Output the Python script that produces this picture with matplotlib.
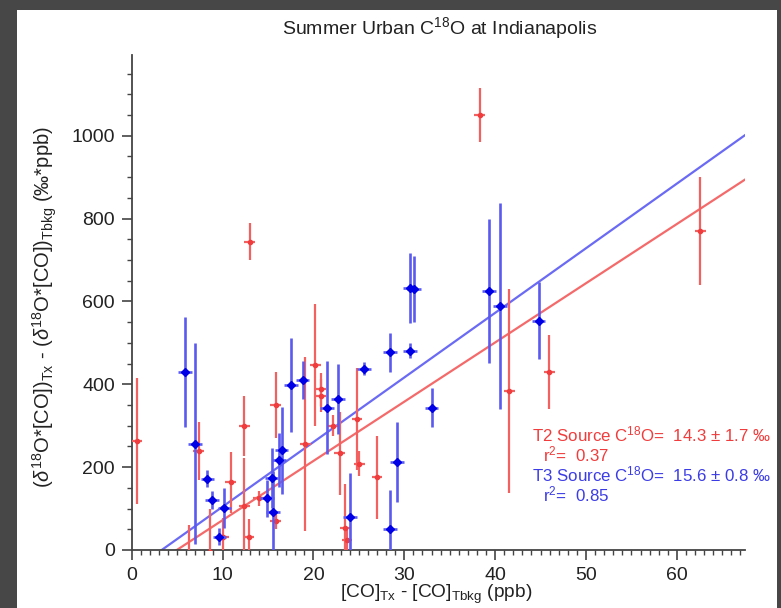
import matplotlib
matplotlib.use("Agg")
import matplotlib.pyplot as plt
from matplotlib.patches import Rectangle
from matplotlib.ticker import MultipleLocator
import numpy as np

plt.rcParams['font.family'] = ['Liberation Sans', 'DejaVu Sans']
plt.rcParams['mathtext.fontset'] = 'custom'
plt.rcParams['mathtext.rm'] = 'Liberation Sans'
plt.rcParams['mathtext.it'] = 'Liberation Sans:italic'

# T2 samples: excess CO (ppb) vs excess delta*CO, with uncertainties
t2_x = [0.55, 6.3, 7.4, 8.6, 10.1, 10.9, 12.4, 12.4, 12.9, 13.0, 14.0, 15.86, 15.86,
        19.1, 20.2, 20.8, 20.8, 22.2, 22.9, 23.5, 23.7, 24.8, 25.07, 27.0, 38.3,
        41.55, 45.96, 62.56]
t2_y = [263, -10, 240, -5, 31, 163, 299, 107, 31, 744, 125, 70, 350,
        256, 447, 388, 372, 300, 233, 54, 23, 317, 208, 176, 1050,
        384, 430, 770]
t2_yerr = [152, 70, 70, 105, 46, 74, 73, 115, 45, 45, 18, 20, 80,
           210, 148, 40, 40, 25, 100, 105, 30, 123, 30, 100, 66,
           247, 90, 131]
t2_xerr = 0.6

# T3 samples
t3_x = [5.87, 6.97, 8.33, 8.81, 9.65, 10.2, 14.87, 15.4, 15.55, 16.2, 16.5, 17.54,
        18.8, 21.5, 22.7, 24.04, 25.6, 28.4, 28.45, 29.2, 30.6, 30.6, 31.1, 33.0,
        39.3, 40.56, 44.78]
t3_y = [429, 257, 172, 121, 32, 101, 125, 174, 91, 218, 241, 398,
        410, 344, 364, 79, 438, 477, 51, 213, 481, 633, 630, 344,
        625, 589, 554]
t3_yerr = [133, 243, 20, 22, 20, 48, 45, 73, 100, 65, 105, 114,
           46, 113, 85, 107, 15, 48, 95, 97, 18, 85, 80, 48,
           173, 248, 93]
t3_xerr = 0.75

# regression fits (slope = source delta18O, permil)
t2_slope, t2_icpt, t2_err, t2_r2 = 14.3, -71.0, 1.7, 0.37
t3_slope, t3_icpt, t3_err, t3_r2 = 15.6, -51.5, 0.8, 0.85

red = '#f03c3c'
blue = '#3c3ce6'

fig = plt.figure(figsize=(7.81, 6.08), dpi=100)
fig.patch.set_facecolor('#474747')
fig.add_artist(Rectangle((17 / 781, 0), 760 / 781, 598 / 608, transform=fig.transFigure,
                         facecolor='white', edgecolor='none', zorder=-10))

ax = fig.add_axes([131.7 / 781, 58 / 608, 613.3 / 781, 495 / 608])
ax.set_facecolor('white')
ax.set_xlim(0, 67.5)
ax.set_ylim(0, 1195)

ax.errorbar(t2_x, t2_y, yerr=t2_yerr, xerr=t2_xerr, fmt='o', ms=3, color=red,
            ecolor='#f26060', elinewidth=1.6, capsize=0, zorder=3)
ax.errorbar(t3_x, t3_y, yerr=t3_yerr, xerr=t3_xerr, fmt='D', ms=4.5, color='#0000e6',
            ecolor='#5a5af0', elinewidth=1.9, capsize=0, zorder=4)

xs = np.array(ax.get_xlim())
ax.plot(xs, t2_slope * xs + t2_icpt, color='#f46a6a', lw=1.6, zorder=2)
ax.plot(xs, t3_slope * xs + t3_icpt, color='#6a6af4', lw=1.6, zorder=2)

for s in ['top', 'right']:
    ax.spines[s].set_visible(False)
for s in ['left', 'bottom']:
    ax.spines[s].set_color('#444444')
    ax.spines[s].set_linewidth(1.3)

ax.xaxis.set_major_locator(MultipleLocator(10))
ax.xaxis.set_minor_locator(MultipleLocator(1))
ax.yaxis.set_major_locator(MultipleLocator(200))
ax.yaxis.set_minor_locator(MultipleLocator(50))
ax.tick_params(which='major', length=7, width=1.2, color='#444444', labelsize=14,
               labelcolor='#222222', pad=5)
ax.tick_params(which='minor', length=3.5, width=1.0, color='#444444')

fig.text(440 / 781, 1 - 28 / 608, 'Summer Urban C$^{18}$O at Indianapolis',
         ha='center', va='center', fontsize=14, color='#222222')
fig.text(436 / 781, 1 - 594 / 608, '[CO]$_{\\mathrm{Tx}}$ - [CO]$_{\\mathrm{Tbkg}}$ (ppb)',
         ha='center', va='center', fontsize=13.8, color='#222222')
fig.text(45 / 781, 1 - 307 / 608,
         '($\\delta^{18}$O*[CO])$_{\\mathrm{Tx}}$ - ($\\delta^{18}$O*[CO])$_{\\mathrm{Tbkg}}$ (‰*ppb)',
         ha='center', va='center', rotation=90, fontsize=14.5, color='#222222')

fig.text(532 / 781, 1 - 434 / 608,
         f'T2 Source C$^{{18}}$O=  {t2_slope} ± {t2_err} ‰',
         ha='left', va='center', fontsize=12.2, color=red)
fig.text(543 / 781, 1 - 454 / 608, f'r$^{{2}}$=  {t2_r2}',
         ha='left', va='center', fontsize=12.2, color=red)
fig.text(532 / 781, 1 - 474 / 608,
         f'T3 Source C$^{{18}}$O=  {t3_slope} ± {t3_err} ‰',
         ha='left', va='center', fontsize=12.2, color=blue)
fig.text(543 / 781, 1 - 494 / 608, f'r$^{{2}}$=  {t3_r2}',
         ha='left', va='center', fontsize=12.2, color=blue)

fig.savefig('out.png', dpi=100, facecolor=fig.get_facecolor())
